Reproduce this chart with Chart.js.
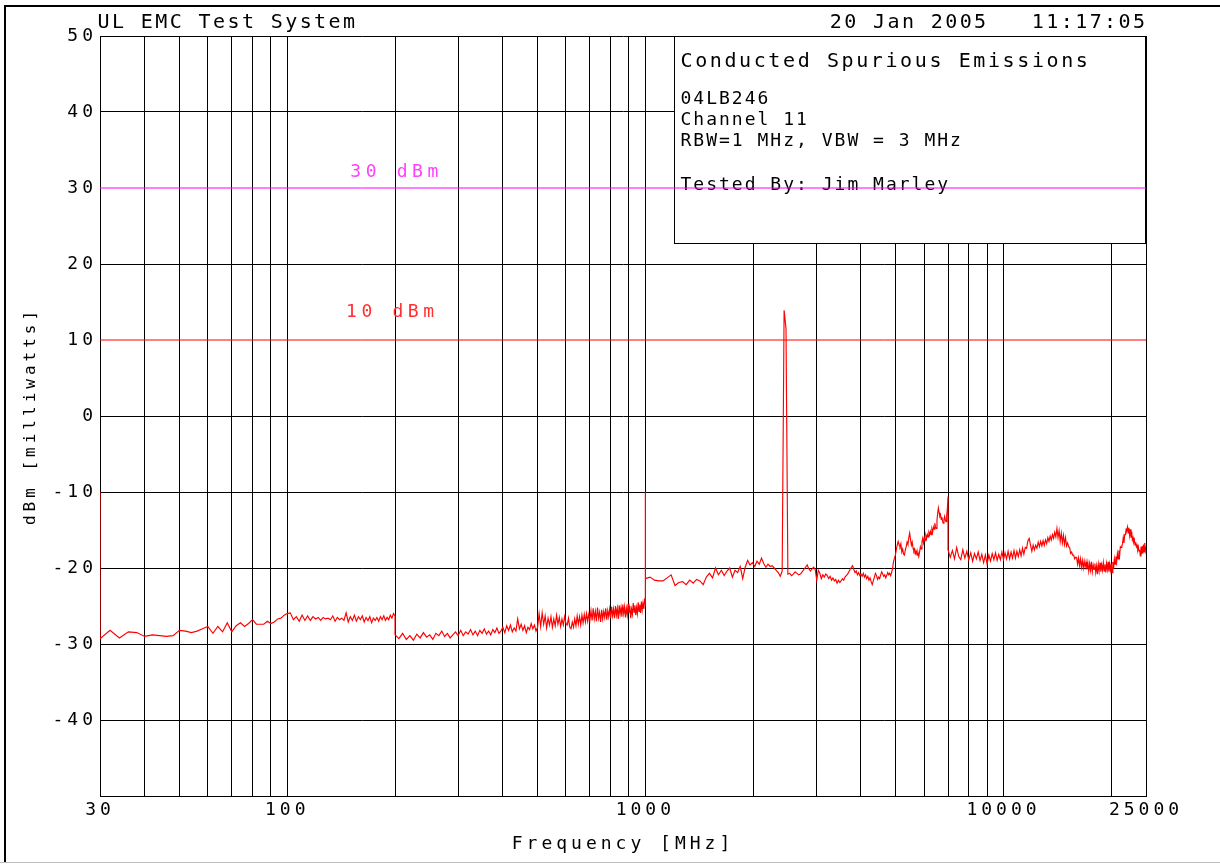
<!DOCTYPE html>
<html><head><meta charset="utf-8">
<script src="https://cdn.jsdelivr.net/npm/chart.js@4.4.1/dist/chart.umd.min.js"></script>
<style>html,body{margin:0;padding:0;background:#fff;overflow:hidden}canvas{display:block}</style>
</head><body>
<canvas id="c" width="1220" height="865" style="width:1220px;height:865px"></canvas>
<script>
// ---------------- data ----------------
// Sweep 1: 30-200 MHz, 2 MHz steps
const seg1Start = 30, seg1Step = 2;
const seg1Levels = [
 -29.3,-28.2,-29.2,-28.4,-28.5,-29.0,-28.8,-28.9,-29.0,-28.9,
 -28.2,-28.3,-28.5,-28.3,-28.0,-27.7,-28.6,-27.7,-28.4,-27.2,
 -28.4,-27.6,-27.2,-27.7,-27.3,-26.8,-27.4,-27.4,-27.4,-27.0,
 -27.3,-27.1,-26.7,-26.6,-26.2,-26.0,-25.9,-26.8,-26.4,-27.0,
 -26.2,-26.9,-26.3,-26.9,-26.4,-26.7,-26.5,-26.9,-26.5,-26.7,
 -26.6,-26.8,-26.3,-27.0,-26.5,-26.8,-26.6,-26.9,-25.9,-27.1,
 -26.4,-26.9,-26.2,-27.0,-26.4,-26.8,-26.3,-27.1,-26.5,-26.9,
 -26.4,-27.2,-26.6,-26.9,-26.5,-27.0,-26.4,-26.8,-26.3,-26.9,
 -26.5,-26.8,-26.2,-26.6,-26.0,-26.3];
// Sweep 2: 200-1000 MHz, 5 MHz steps
const seg2Start = 200, seg2Step = 5;
const seg2Levels = [
 -28.8,-29.3,-28.6,-29.4,-28.9,-29.5,-28.7,-29.2,-28.5,-29.1,-28.8,-29.4,-28.6,-28.9,-28.3,-29.0,-28.6,-29.2,-28.8,-28.4,-28.9,
 -28.2,-28.9,-28.4,-28.7,-28.1,-28.8,-28.3,-28.9,-28.2,-28.6,-28.0,-28.7,-28.3,-28.8,-28.1,-28.5,-27.9,-28.6,
 -28.3,-27.8,-28.5,-27.6,-28.2,-27.5,-28.4,-27.9,-28.3,-26.7,-28.0,-27.4,-28.2,-27.6,-28.5,-27.8,-28.1,-27.3,-28.0,-27.5,-28.3,-27.8,
 -26.0,-27.7,-25.9,-27.4,-26.3,-27.9,-26.6,-27.5,-26.4,-27.8,-26.7,-27.6,-26.2,-27.4,-26.5,-27.7,-26.7,-27.5,-26.4,-27.3,
 -27.5,-26.6,-27.8,-28.0,-27.1,-27.8,-26.7,-27.6,-26.3,-27.4,-26.4,-27.5,-26.2,-27.2,-26.1,-27.1,-26.0,-27.0,-26.1,-26.9,
 -25.6,-26.9,-25.3,-26.7,-25.7,-27.0,-25.2,-26.6,-25.8,-27.1,-25.5,-26.7,-25.7,-26.5,-25.3,-26.8,-25.6,-26.4,-25.4,-26.6,
 -25.1,-26.3,-25.4,-26.6,-25.0,-26.2,-25.3,-26.7,-24.9,-26.1,
 -25.2,-26.4,-24.8,-26.0,-25.1,-26.5,-25.3,-26.2,-24.7,-25.9,
 -25.0,-26.6,-25.4,-26.1,-24.6,-25.8,-24.9,-26.2,-25.2,-26.0,
 -24.5,-25.7,-24.8,-25.9,-24.4,-25.5,-24.6,-25.4,-24.3,-24.7];
// Sweep 3: 1000-7000 MHz, 30 MHz steps (carrier at 2.44 GHz)
const seg3Start = 1000, seg3Step = 30;
const seg3Levels = [
 -21.4,-21.2,-21.6,-21.7,-21.7,-21.3,-20.9,-22.3,-21.9,-21.8,
 -22.2,-21.6,-22.0,-21.5,-21.7,-22.2,-21.2,-20.7,-21.3,-20.0,
 -20.9,-20.3,-21.0,-20.4,-20.0,-21.2,-20.3,-20.6,-19.8,-21.4,
 -19.9,-19.0,-19.6,-19.3,-19.8,-19.1,-19.5,-18.7,-19.4,-19.9,
 -19.5,-19.8,-19.7,-20.0,-20.3,-20.6,-21.1,-20.4,13.9,11.5,
 -20.8,
 -20.7,-21.0,-20.8,-20.5,-20.7,-20.9,-20.8,-20.5,-20.2,-19.9,
 -19.6,-20.1,-20.4,-20.1,-19.9,-20.2,-21.6,-20.3,-20.7,-21.4,
 -20.9,-21.2,-20.8,-21.0,-21.4,-21.1,-21.6,-21.3,-21.7,-21.5,
 -22.0,-21.6,-21.9,-21.7,-21.4,-21.6,-21.2,-21.0,-20.8,-20.5,
 -20.2,-19.9,-19.7,-20.2,-20.6,-20.4,-20.9,-20.6,-21.0,-20.8,
 -21.1,-20.7,-21.2,-20.9,-21.4,-21.1,-21.6,-21.3,-21.8,-22.2,
 -21.7,-21.2,-20.7,-21.0,-21.5,-21.2,-21.4,-20.9,-20.5,-20.8,
 -21.1,-20.9,-21.3,-21.0,-20.6,-20.9,-20.7,-21.0,-20.6,-20.1,
 -19.2,-18.7,-18.3,
 -17.6,-17.0,-16.5,-16.9,-17.2,-16.8,-17.9,-17.5,-18.2,-18.3,
 -17.6,-17.2,-16.6,-16.9,-16.0,-15.4,-16.2,-17.0,-16.6,-17.4,
 -17.8,-17.5,-18.1,-17.8,-18.3,-18.0,-18.5,-17.9,-17.2,-17.5,
 -16.6,-16.1,-16.7,-16.0,-16.4,-15.7,-16.1,-15.6,-15.9,-15.3,
 -15.6,-15.2,-15.6,-14.9,-15.3,-14.6,-14.9,-14.1,-14.6,-14.8,
 -13.7,-12.8,-12.1,-12.7,-13.2,-13.0,-13.6,-13.3,-13.9,-14.1,
 -13.6,-13.2,-13.7,-13.9,-13.1,-12.2,-10.6];
// Sweep 4: 7000-25000 MHz, 100 MHz steps
const seg4Start = 7000, seg4Step = 100;
const seg4Levels = [
 -17.6,-18.6,-17.7,-18.8,-17.3,-18.5,-18.9,-17.6,-18.7,-17.8,
 -18.9,-18.0,-19.1,-18.1,-18.8,-17.9,-19.0,-18.2,-19.3,-18.3,
 -19.5,-18.3,-19.1,-18.1,-18.9,-18.0,-19.0,-18.2,-18.9,-17.9,
 -18.9,-18.0,-18.8,-17.8,-18.8,-17.9,-18.7,-17.7,-18.7,-17.8,
 -18.5,-17.6,-18.4,-17.4,-18.2,-17.3,-17.4,-16.4,-16.1,-17.0,
 -17.8,-17.0,-17.6,-17.0,-17.4,-16.6,-17.2,-16.5,-17.1,-16.4,
 -17.0,-16.3,-16.8,-16.0,-16.5,-15.8,-16.3,-15.6,-16.1,-15.3,
 -15.9,-14.8,-16.0,-15.1,-16.5,-15.4,-16.7,-15.7,-16.9,-16.0,
 -17.1,-16.7,-17.2,-17.3,-18.1,-17.9,-18.3,-18.3,-18.8,-18.6,
 -18.6,-19.5,-18.7,-19.7,-18.8,-19.9,-19.0,-20.0,-19.1,-19.9,
 -19.2,-20.2,-19.3,-20.4,-19.4,-20.3,-19.2,-20.5,-19.6,-20.2,
 -19.4,-20.6,-19.7,-20.8,-19.5,-20.4,-19.3,-20.5,-19.6,-20.3,
 -19.3,-20.4,-19.5,-20.6,-19.4,-20.2,-19.2,-20.5,-19.5,-20.3,
 -19.4,-20.6,-19.2,-20.1,-18.8,-19.5,-18.5,-19.2,-18.1,-18.8,
 -17.7,-18.4,-17.2,-17.3,-17.1,-16.8,-16.0,-16.7,-15.6,-15.6,
 -14.9,-15.0,-14.6,-15.4,-14.7,-15.7,-14.9,-16.0,-15.2,-16.3,
 -16.0,-16.6,-16.3,-17.0,-16.6,-17.2,-17.0,-17.6,-17.2,-17.8,
 -17.6,-18.4,-17.2,-18.2,-17.1,-18.1,-16.9,-17.9,-16.7,-17.7,-17.2];
// sweep-start artefacts (vertical strokes to -10 dBm)
const glitchFreqs = [30, 1000];
const glitchLevel = -10;
// limit lines
const limitFreqs = [30, 25000];
const limit30Levels = [30, 30];
const limit10Levels = [10, 10];
const limitLabels = ['30 dBm', '10 dBm'];
// axes
const xGridFreqs = [30,40,50,60,70,80,90,100,200,300,400,500,600,700,800,900,1000,2000,3000,4000,5000,6000,7000,8000,9000,10000,20000,25000];
const xTickValues = [30, 100, 1000, 10000, 25000];
const xTickLabels = ['30', '100', '1000', '10000', '25000'];
const yTickValues = [50,40,30,20,10,0,-10,-20,-30,-40,-50];
const yTickLabels = ['50','40','30','20','10','0','-10','-20','-30','-40',''];
// texts
const headerLeft = 'UL EMC Test System';
const headerRight = '20 Jan 2005   11:17:05';
const boxTitle = 'Conducted Spurious Emissions';
const boxLines = ['04LB246', 'Channel 11', 'RBW=1 MHz, VBW = 3 MHz', '', 'Tested By: Jim Marley'];
const xTitle = 'Frequency [MHz]';
const yTitle = 'dBm [milliwatts]';

// ---------------- build ----------------
const sweeps = [[seg1Start, seg1Step, seg1Levels],[seg2Start, seg2Step, seg2Levels],[seg3Start, seg3Step, seg3Levels],[seg4Start, seg4Step, seg4Levels]];
const trace = [];
sweeps.forEach(([start, step, levels]) => {
  if (glitchFreqs.includes(start)) trace.push({x: start, y: glitchLevel});
  levels.forEach((v, i) => trace.push({x: start + i * step, y: v}));
});
const mkLimit = lv => limitFreqs.map((f, i) => ({x: f, y: lv[i]}));
const limitGridValues = [limit30Levels[0], limit10Levels[0]];

const FONT = 'DejaVu Sans Mono';
function txt(ctx, s, x, y, size, spacing, color, align) {
  ctx.save();
  ctx.font = size + 'px "' + FONT + '"';
  ctx.letterSpacing = spacing + 'px';
  ctx.fillStyle = color;
  ctx.textAlign = align || 'left';
  ctx.textBaseline = 'alphabetic';
  ctx.fillText(s, align === 'right' ? x + spacing : x, y);
  ctx.restore();
}

const paper = {
  id: 'paper',
  beforeDraw(chart) {
    const ctx = chart.ctx;
    ctx.save(); ctx.fillStyle = '#fff'; ctx.fillRect(0, 0, chart.width, chart.height); ctx.restore();
    ctx.letterSpacing = '4px';
  },
  beforeDatasetsDraw(chart) {
    const ctx = chart.ctx, a = chart.chartArea;
    ctx.letterSpacing = '0px';
    // info box
    const bx = a.right - 471.5, by = a.top + 0.5, bw = 471, bh = 207;
    ctx.save();
    ctx.fillStyle = '#fff'; ctx.fillRect(bx, by, bw, bh);
    ctx.strokeStyle = '#000'; ctx.lineWidth = 1; ctx.strokeRect(bx, by, bw, bh);
    ctx.restore();
    txt(ctx, boxTitle, bx + 6, a.top + 31, 20, 2.6, '#000');
    const base = [67.5, 88.5, 110, 131.5, 153.5];
    boxLines.forEach((s, i) => { if (s) txt(ctx, s, bx + 6, a.top + base[i], 18, 2.0, '#000'); });
  },
  afterDatasetsDraw(chart) {
    const ctx = chart.ctx, y = chart.scales.y, x = chart.scales.x;
    txt(ctx, limitLabels[0], x.getPixelForValue(150), y.getPixelForValue(limit30Levels[0]) - 11, 18, 4.6, '#ff40ff');
    txt(ctx, limitLabels[1], x.getPixelForValue(146), y.getPixelForValue(limit10Levels[0]) - 23, 18, 4.6, '#ff3030');
  },
  afterDraw(chart) {
    const ctx = chart.ctx, a = chart.chartArea;
    ctx.letterSpacing = '0px';
    txt(ctx, headerLeft, a.left - 2.5, 28, 20, 2.4, '#000');
    txt(ctx, headerRight, a.right - 1, 27.5, 20, 2.4, '#000', 'right');
    ctx.save();
    ctx.fillStyle = '#000';
    ctx.fillRect(4, 5, 1216, 2);
    ctx.fillRect(4, 5, 2, 858);
    ctx.fillStyle = '#bdbdbd';
    ctx.fillRect(0, 862, 1220, 1);
    ctx.restore();
  }
};

new Chart(document.getElementById('c'), {
  type: 'line',
  data: {
    datasets: [
      {data: trace, borderColor: '#ff0000', borderWidth: 1.15, pointRadius: 0, tension: 0, order: 1},
      {data: mkLimit(limit30Levels), borderColor: '#ff00ff', borderWidth: 1, pointRadius: 0, order: 0},
      {data: mkLimit(limit10Levels), borderColor: '#ff0000', borderWidth: 1, pointRadius: 0, order: 0}
    ]
  },
  options: {
    responsive: false, animation: false, devicePixelRatio: 1,
    layout: {padding: {left: 0, top: 36, right: 74, bottom: 0}},
    plugins: {legend: {display: false}, tooltip: {enabled: false}, title: {display: false}},
    scales: {
      x: {
        type: 'logarithmic', min: 30, max: 25000,
        afterBuildTicks: s => { s.ticks = xGridFreqs.map(v => ({value: v})); },
        afterFit: s => { s.height = 69; },
        grid: {color: '#000', lineWidth: 1, drawTicks: false},
        border: {color: '#000', width: 1},
        ticks: {autoSkip: false, maxRotation: 0, padding: 4, color: '#000',
          font: {family: FONT, size: 18},
          callback: v => { const i = xTickValues.indexOf(v); return i >= 0 ? xTickLabels[i] : ''; }},
        title: {display: true, text: xTitle, color: '#000', font: {family: FONT, size: 18}, padding: {top: 0, bottom: 10}}
      },
      y: {
        type: 'linear', min: -50, max: 50,
        afterBuildTicks: s => { s.ticks = yTickValues.map(v => ({value: v})); },
        afterFit: s => { s.width = 100; },
        grid: {lineWidth: 1, drawTicks: false,
          color: c => (c.tick && limitGridValues.includes(c.tick.value)) ? 'rgba(0,0,0,0)' : '#000'},
        border: {color: '#000', width: 1},
        ticks: {padding: 3, color: '#000', font: {family: FONT, size: 18},
          callback: v => { const i = yTickValues.indexOf(v); return i >= 0 ? yTickLabels[i] : ''; }},
        title: {display: true, text: yTitle, color: '#000', font: {family: FONT, size: 16}, padding: {top: 21, bottom: 0}}
      }
    }
  },
  plugins: [paper]
});
</script>
</body></html>
